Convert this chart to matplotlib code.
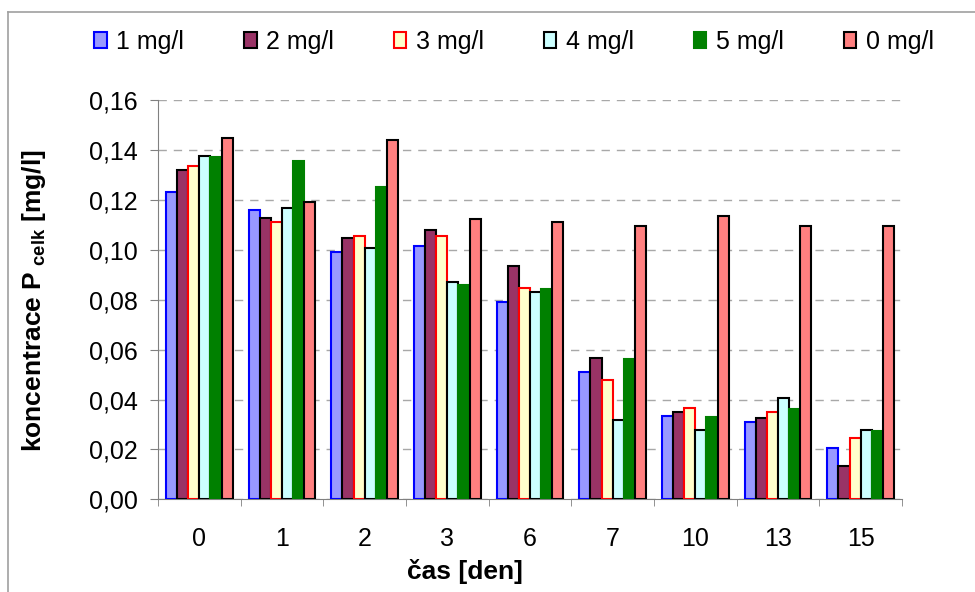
import matplotlib.pyplot as plt
import numpy as np
from matplotlib.lines import Line2D

plt.rcParams['font.family'] = ['Liberation Sans', 'DejaVu Sans']
plt.rcParams['mathtext.fontset'] = 'custom'
plt.rcParams['mathtext.rm'] = 'Liberation Sans:bold'

# cas [den]
days = ['0', '1', '2', '3', '6', '7', '10', '13', '15']
series = ['1 mg/l', '2 mg/l', '3 mg/l', '4 mg/l', '5 mg/l', '0 mg/l']

c1 = [0.1233, 0.1161, 0.0993, 0.1017, 0.0792, 0.0512, 0.0334, 0.0311, 0.0206]
c2 = [0.1320, 0.1128, 0.1049, 0.1080, 0.0937, 0.0567, 0.0351, 0.0326, 0.0134]
c3 = [0.1336, 0.1112, 0.1057, 0.1057, 0.0847, 0.0480, 0.0366, 0.0351, 0.0247]
c4 = [0.1376, 0.1168, 0.1008, 0.0871, 0.0832, 0.0318, 0.0279, 0.0406, 0.0279]
c5 = [0.1371, 0.1356, 0.1251, 0.0858, 0.0842, 0.0561, 0.0329, 0.0361, 0.0273]
c0 = [0.1450, 0.1193, 0.1441, 0.1123, 0.1112, 0.1097, 0.1137, 0.1097, 0.1097]
values = [c1, c2, c3, c4, c5, c0]

fills = ['#9999FF', '#993366', '#FFFFCC', '#CCFFFF', '#008000', '#FF8080']
edges = ['#0000FF', '#000000', '#FF0000', '#000000', '#008000', '#000000']

fig = plt.figure(figsize=(9.75, 5.92), dpi=100)
ax = fig.add_axes([158/975, 1-499.3/592, 744/975, 399/592])

x = np.arange(len(days))
w = 0.135
bars = []
for i in range(6):
    b = ax.bar(x + (i - 2.5)*w, values[i], w, color=fills[i], edgecolor=edges[i],
               linewidth=1.5, label=series[i], zorder=3)
    bars.append(b)

yt = np.arange(0, 0.161, 0.02)
ax.set_xlim(-0.5, len(days) - 0.5)
ax.set_ylim(0, 0.16)
ax.set_yticks(yt)
ax.set_yticklabels([('%.2f' % v).replace('.', ',') for v in yt])
ax.set_xticks(x)
ax.set_xticklabels(days)
ax.set_xticks(np.arange(-0.5, len(days)), minor=True)
ax.tick_params(axis='x', which='major', length=0, pad=20, labelsize=18)
ax.tick_params(axis='x', which='minor', length=5, color='#808080', direction='out')
ax.tick_params(axis='y', length=5.8, color='#808080', pad=8.6, labelsize=18)

ax.grid(axis='y', linestyle=(0, (6, 5)), color='#a8a8a8', linewidth=1, zorder=0)
ax.set_axisbelow(True)
for s in ['top', 'right']:
    ax.spines[s].set_visible(False)
for s in ['left', 'bottom']:
    ax.spines[s].set_color('#808080')

fig.text(34/975, 1-301/592, r'koncentrace P$_{\mathrm{\ celk}}$ [mg/l]',
         fontsize=19, fontweight='bold', rotation=90, ha='center', va='center')
fig.text(465/975, 1-571/592, 'čas [den]', fontsize=19, fontweight='bold',
         ha='center', va='center')

fig.legend(handles=bars, labels=series, loc='center', ncol=6,
           bbox_to_anchor=(514/975, 1-42/592), frameon=False, fontsize=18,
           handlelength=0.5, handleheight=0.6, handletextpad=0.38,
           columnspacing=2.4)

# chart frame
fig.add_artist(Line2D([8/975, 1.0], [1-12/592, 1-12/592], color='#a0a0a0', lw=1.2,
                      transform=fig.transFigure))
fig.add_artist(Line2D([8/975, 8/975], [0.0, 1-12/592], color='#a0a0a0', lw=1.2,
                      transform=fig.transFigure))

fig.savefig('out.png', dpi=100)
